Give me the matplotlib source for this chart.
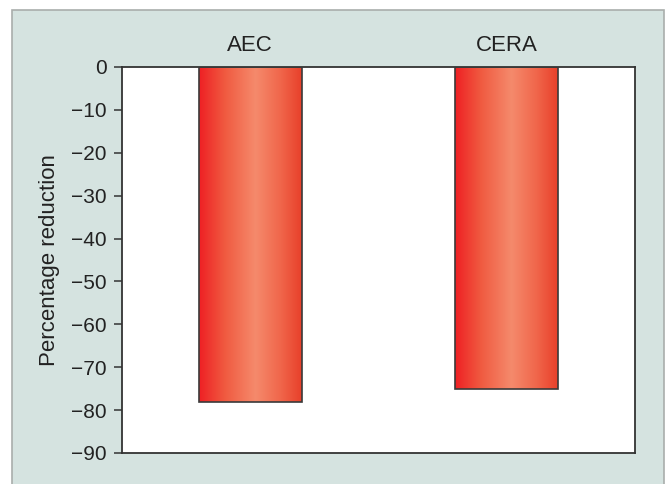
import numpy as np
import matplotlib
matplotlib.use("Agg")
import matplotlib.pyplot as plt
from matplotlib.patches import Rectangle
from matplotlib.colors import LinearSegmentedColormap

# Data
categories = ["AEC", "CERA"]
values = [-78, -75]
yticks = [0, -10, -20, -30, -40, -50, -60, -70, -80, -90]

plt.rcParams["font.family"] = ["Liberation Sans", "DejaVu Sans"]

W, H = 668, 484
fig = plt.figure(figsize=(W / 100, H / 100), dpi=100)
fig.patch.set_facecolor("white")

# Tinted panel behind the chart
panel = Rectangle((12 / W, -0.05), (664 - 12) / W, 1 - 10 / H + 0.05,
                  transform=fig.transFigure, facecolor="#d5e3e0",
                  edgecolor="#a9aeac", linewidth=1.2, zorder=-10)
fig.add_artist(panel)

ax = fig.add_axes([122 / W, (H - 453) / H, 513 / W, 386 / H])
ax.set_zorder(1)
ax.set_facecolor("white")

x = np.arange(len(categories))
width = 0.4

# Horizontal red gradient for each bar
grad_cmap = LinearSegmentedColormap.from_list(
    "bar_grad",
    [(0.0, "#ee2024"), (0.25, "#f05a40"), (0.55, "#f58a6c"),
     (0.8, "#f0654a"), (1.0, "#e8402a")])
grad = np.linspace(0, 1, 256).reshape(1, -1)

for xi, v in zip(x, values):
    ax.imshow(grad, cmap=grad_cmap, aspect="auto",
              extent=(xi - width / 2, xi + width / 2, v, 0), zorder=2,
              interpolation="bicubic")

ax.bar(x, values, width=width, facecolor="none", edgecolor="#3a3a3a",
       linewidth=1.2, zorder=3)

ax.set_xlim(-0.5, 1.5)
ax.set_ylim(-90, 0)
ax.set_yticks(yticks)
ax.set_yticklabels([f"\u2212{abs(t)}" if t < 0 else str(t) for t in yticks])
ax.tick_params(axis="y", direction="out", length=6, width=1.1,
               color="#333333", labelsize=15, pad=5, labelcolor="#222222")
ax.set_xticks(x)
ax.set_xticklabels(categories)
ax.xaxis.tick_top()
ax.tick_params(axis="x", length=0, labelsize=16, pad=8, labelcolor="#222222")

for s in ax.spines.values():
    s.set_color("#333333")
    s.set_linewidth(1.3)

ax.set_ylabel("Percentage reduction", fontsize=16, color="#222222", labelpad=8)

fig.savefig("out.png", dpi=100)
